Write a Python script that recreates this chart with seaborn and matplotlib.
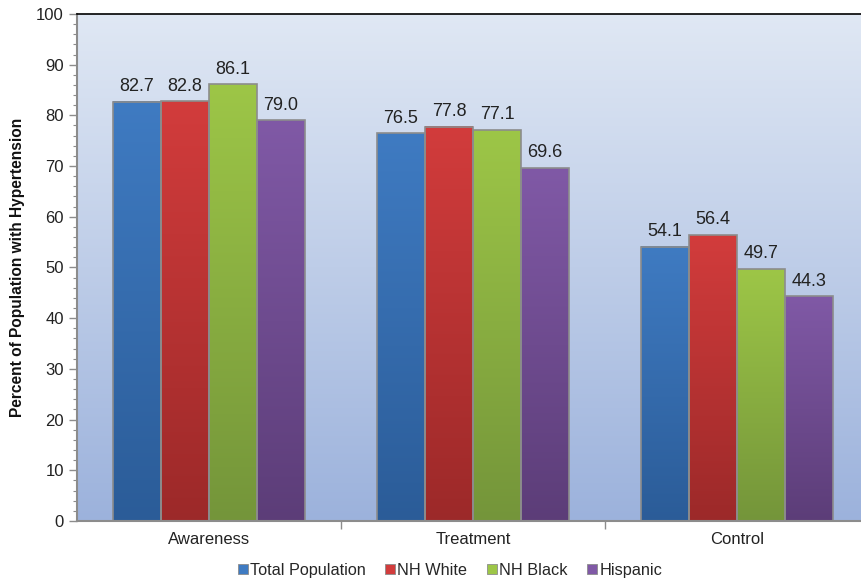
import pandas as pd
import numpy as np
import matplotlib
matplotlib.use('Agg')
import matplotlib.pyplot as plt
import seaborn as sns
from matplotlib.colors import LinearSegmentedColormap
from matplotlib.patches import Patch

# Data
categories = ['Awareness', 'Treatment', 'Control']
groups = ['Total Population', 'NH White', 'NH Black', 'Hispanic']
total_population = [82.7, 76.5, 54.1]
nh_white = [82.8, 77.8, 56.4]
nh_black = [86.1, 77.1, 49.7]
hispanic = [79.0, 69.6, 44.3]

df = pd.DataFrame({
    'measure': categories * 4,
    'group': [g for g in groups for _ in categories],
    'value': total_population + nh_white + nh_black + hispanic,
})

# top / bottom colours for the bar gradients
top_colors = ['#3f7bc2', '#d23c3c', '#9dc647', '#8059a6']
bottom_colors = ['#2b5c98', '#9c2929', '#74953a', '#5c3d78']

sns.set_style('white')
plt.rcParams['font.family'] = ['Liberation Sans', 'DejaVu Sans']

fig = plt.figure(figsize=(8.62, 5.81), dpi=100)
# plot area runs slightly past the right edge of the image, as in the original
ax = fig.add_axes([0.0893, 0.1033, 0.9188, 0.8727])

sns.barplot(data=df, x='measure', y='value', hue='group', order=categories,
            hue_order=groups, palette=top_colors, width=0.727, gap=0,
            edgecolor='#8c8c8c', linewidth=1.2, legend=False, ax=ax, zorder=2)

ax.set_xlim(-0.5, 2.5)
ax.set_ylim(0, 100)

# background gradient of the plot area
bg = LinearSegmentedColormap.from_list('bg', ['#9cb2dc', '#e0e8f4'])
ax.imshow(np.linspace(0, 1, 256).reshape(-1, 1), extent=[-0.5, 2.5, 0, 100],
          origin='lower', aspect='auto', cmap=bg, zorder=0)

# gradients on the bars
bars = [p for p in ax.patches if p.get_height() > 0]
for i, bar in enumerate(bars):
    gi = i // len(categories)
    cm = LinearSegmentedColormap.from_list('b%d' % i, [bottom_colors[gi], top_colors[gi]])
    x0, w, h = bar.get_x(), bar.get_width(), bar.get_height()
    ax.imshow(np.linspace(0, 1, 256).reshape(-1, 1), extent=[x0, x0 + w, 0, h],
              origin='lower', aspect='auto', cmap=cm, zorder=2.5)
    bar.set_facecolor('none')
    bar.set_zorder(3)
    ax.text(x0 + w / 2, h + 1.3, f'{h:.1f}', ha='center', va='bottom',
            fontsize=13, color='#222222', zorder=4)

ax.set_xlim(-0.5, 2.5)
ax.set_ylim(0, 100)

# axes styling
for s in ['left', 'bottom']:
    ax.spines[s].set_color('#8c8c8c')
    ax.spines[s].set_linewidth(1.5)
ax.spines['top'].set_color('black')
ax.spines['top'].set_linewidth(1.2)
ax.spines['right'].set_visible(False)

ax.set_yticks(range(0, 101, 10))
ax.set_yticks(range(0, 101, 2), minor=True)
ax.tick_params(axis='y', which='major', length=6, width=1, color='#8c8c8c',
               labelsize=12, labelcolor='#222222', direction='out', left=True)
ax.tick_params(axis='y', which='minor', length=3, width=0.8, color='#8c8c8c', left=True)

ax.set_xticks([0, 1, 2])
ax.set_xticklabels(categories)
ax.set_xticks([0.5, 1.5], minor=True)
ax.tick_params(axis='x', which='major', length=0, labelsize=12, labelcolor='#222222', pad=8)
ax.tick_params(axis='x', which='minor', length=6, width=1, color='#8c8c8c', bottom=True)

ax.set_xlabel('')
ax.set_ylabel('Percent of Population with Hypertension', fontsize=11.2,
              fontweight='bold', color='#111111', labelpad=8)
ax.grid(False)

handles = [Patch(facecolor=c, edgecolor='#8c8c8c', linewidth=0.6) for c in top_colors]
fig.legend(handles, groups, loc='center', bbox_to_anchor=(0.522, 0.018),
           ncol=4, frameon=False, fontsize=11.7, handlelength=0.6, handleheight=0.6,
           handletextpad=0.15, columnspacing=1.2)

fig.savefig('out.png', dpi=100, facecolor='white')
